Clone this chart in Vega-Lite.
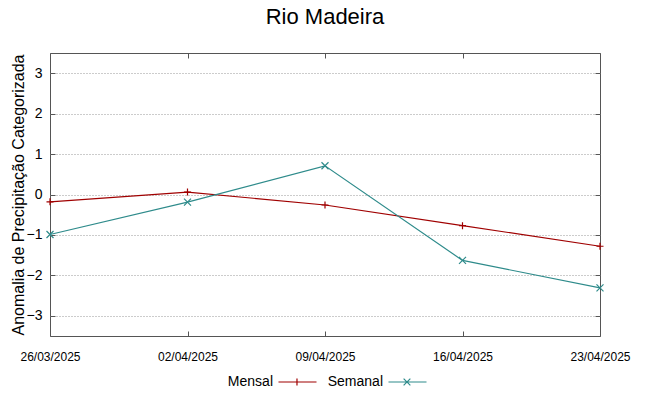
{
  "$schema": "https://vega.github.io/schema/vega-lite/v6.json",
  "autosize": "none",
  "width": 550,
  "height": 283,
  "padding": {"left": 50, "top": 53, "right": 48, "bottom": 60},
  "background": "white",
  "title": {"text": "Rio Madeira", "fontSize": 22, "font": "Liberation Sans", "fontWeight": "normal", "color": "#000", "offset": 24},
  "config": {
    "font": "Liberation Sans",
    "view": {"stroke": "#555", "strokeWidth": 1}
  },
  "data": {"values": [
    {"date": "26/03/2025", "series": "Mensal", "value": -0.18},
    {"date": "02/04/2025", "series": "Mensal", "value": 0.06},
    {"date": "09/04/2025", "series": "Mensal", "value": -0.26},
    {"date": "16/04/2025", "series": "Mensal", "value": -0.77},
    {"date": "23/04/2025", "series": "Mensal", "value": -1.28},
    {"date": "26/03/2025", "series": "Semanal", "value": -0.99},
    {"date": "02/04/2025", "series": "Semanal", "value": -0.19},
    {"date": "09/04/2025", "series": "Semanal", "value": 0.71},
    {"date": "16/04/2025", "series": "Semanal", "value": -1.63},
    {"date": "23/04/2025", "series": "Semanal", "value": -2.31}
  ]},
  "resolve": {"axis": {"x": "independent", "y": "independent"}},
  "layer": [
    {"mark": {"type": "line", "strokeWidth": 1.2},
     "encoding": {
       "x": {"field": "date", "type": "ordinal",
         "sort": ["26/03/2025", "02/04/2025", "09/04/2025", "16/04/2025", "23/04/2025"],
         "scale": {"type": "point", "padding": 0},
         "axis": {"title": null, "labelAngle": 0, "labelFontSize": 12, "labelColor": "#000", "domain": false, "tickSize": -5, "tickColor": "#555", "labelPadding": 20, "grid": false}},
       "y": {"field": "value", "type": "quantitative",
         "scale": {"domain": [-3.5, 3.5], "nice": false, "zero": false},
         "axis": {"title": "Anomalia de Precipitação Categorizada", "titleFontSize": 16, "titleFontWeight": "normal", "titleColor": "#000", "titlePadding": 0,
           "values": [-3, -2, -1, 0, 1, 2, 3], "labelFontSize": 14, "labelColor": "#000", "domain": false,
           "tickSize": -5, "tickColor": "#555", "labelPadding": 13,
           "grid": true, "gridColor": "#999", "gridDash": [1, 2], "gridWidth": 1}},
       "color": {"field": "series", "type": "nominal",
         "scale": {"domain": ["Mensal", "Semanal"], "range": ["#a00000", "#2e8b8b"]},
         "legend": {"title": null, "orient": "none", "legendX": 220, "legendY": 322, "direction": "horizontal",
           "labelFontSize": 14, "labelColor": "#000", "symbolSize": 81, "symbolStrokeWidth": 1.2,
           "labelAlign": "right", "labelOffset": -11, "columnPadding": 8,
           "encode": {"symbols": {"update": {
             "size": {"value": 81},
             "shape": {"signal": "datum.value === 'Mensal' ? 'M0.33,0H8.78M4.44,-0.8V0.8' : 'M0.33,0H8.78M3.69,-0.75L5.19,0.75M3.69,0.75L5.19,-0.75'"}}}}}}
     }},
    {"transform": [{"filter": "datum.series === 'Mensal'"}],
     "mark": {"type": "point", "filled": false, "strokeWidth": 1.2, "size": 49, "opacity": 1, "color": "#a00000", "shape": "M-1,0H1M0,-1V1"},
     "encoding": {
       "x": {"field": "date", "type": "ordinal",
         "sort": ["26/03/2025", "02/04/2025", "09/04/2025", "16/04/2025", "23/04/2025"],
         "scale": {"type": "point", "padding": 0},
         "axis": {"orient": "top", "title": null, "labels": false, "domain": false, "tickSize": -5, "tickColor": "#555", "grid": false}},
       "y": {"field": "value", "type": "quantitative",
         "scale": {"domain": [-3.5, 3.5], "nice": false, "zero": false},
         "axis": {"orient": "right", "title": null, "labels": false, "values": [-3, -2, -1, 0, 1, 2, 3], "domain": false, "tickSize": -5, "tickColor": "#555", "grid": false}}
     }},
    {"transform": [{"filter": "datum.series === 'Semanal'"}],
     "mark": {"type": "point", "filled": false, "strokeWidth": 1.2, "size": 49, "opacity": 1, "color": "#2e8b8b", "shape": "M-1,-1L1,1M-1,1L1,-1"},
     "encoding": {
       "x": {"field": "date", "type": "ordinal",
         "sort": ["26/03/2025", "02/04/2025", "09/04/2025", "16/04/2025", "23/04/2025"],
         "scale": {"type": "point", "padding": 0},
         "axis": null},
       "y": {"field": "value", "type": "quantitative",
         "scale": {"domain": [-3.5, 3.5], "nice": false, "zero": false},
         "axis": null}
     }}
  ]
}
